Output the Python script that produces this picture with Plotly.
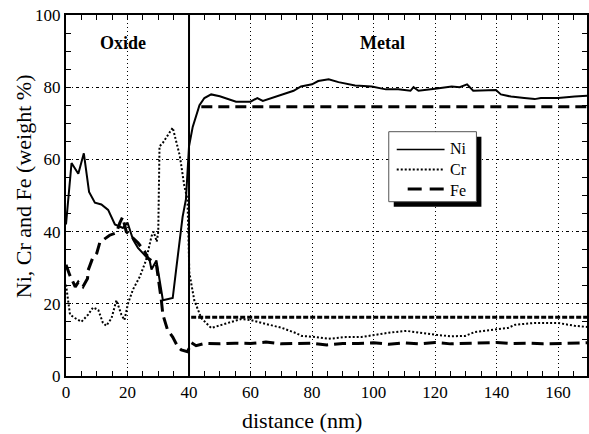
import plotly.graph_objects as go

# ---------------- data ----------------
ni_x = [0, 1.8, 4, 5.8, 7.5, 9.4, 11.5, 13.7, 15.9, 18.5, 20, 21.8, 23.4, 25, 27.2, 27.8, 29.4,
        31.5, 34.7, 35.8, 37.9, 39, 40, 41.2, 43.4, 45, 47.2, 50, 55.3, 60, 62.2, 64, 69, 74,
        76.4, 80, 82, 85.4, 88.6, 94, 99.4, 104, 108, 112, 113, 114.6, 120, 125.4, 128, 130.4,
        132.4, 137.2, 139.8, 141.4, 144.7, 149, 152.4, 154.4, 160, 165.4, 169.4]
ni_y = [42, 59, 56, 61.7, 51, 48, 47.5, 46, 42, 41, 42.5, 37.8, 35.5, 34, 32, 29.5, 32,
        21, 21.6, 29.4, 44, 49, 63.6, 69, 75, 77, 78, 77.5, 76, 76, 77, 76.2, 77.6, 79,
        80.2, 80.8, 81.7, 82.2, 81.4, 80.5, 80.2, 79.4, 79.4, 79, 80, 79, 79.6, 80.2, 80, 80.8,
        79, 79, 79.2, 78, 77.4, 77, 76.7, 77, 77, 77.4, 77.6]

cr_x = [0, 1.3, 3, 5, 7.2, 8.8, 10.5, 12, 13.1, 14.8, 16.4, 18, 19, 20.2, 21.8, 24, 26, 27.8,
        28.5, 29.5, 30, 30.4, 31.5, 34.7, 37, 38.5, 39.5, 40.1, 41.7, 44, 47.2, 50.8, 57, 60,
        65, 70.3, 74.7, 76.7, 81.2, 85.4, 91, 96.1, 100.6, 105, 110.7, 114.6, 120.4, 125,
        129.8, 133, 139.8, 143.7, 146, 152.4, 160, 165.4, 169.4]
cr_y = [25.3, 17, 16, 15, 17, 19, 18.3, 14.7, 13.9, 16, 21, 17, 15.5, 20.2, 24, 27.5, 32, 38.7,
        40, 37.2, 40, 63.6, 64.6, 68.8, 61, 52.5, 49, 28.6, 21, 16, 13.3, 14.2, 15.8, 15.5,
        14.4, 13.3, 11.9, 11.1, 10.8, 10.3, 10.8, 10.8, 11.4, 12, 12.5, 12, 11.4, 11,
        11.1, 12.2, 12.8, 13.3, 14.2, 14.7, 14.7, 13.9, 13.6]

fe_x = [0, 1.2, 3, 4, 5.5, 7, 7.2, 8.6, 10, 11, 14.2, 16.4, 17.5, 18.4, 19.6, 21.3, 23.4, 25.6,
        26.6, 28.2, 29.4, 31, 31.5, 33, 34.7, 36.4, 37.5, 39.5, 40.8, 42.3, 45, 50, 55, 60, 65,
        70, 75, 80, 84.8, 90, 95, 100, 105, 110, 115, 120, 125, 130, 135, 140, 145, 150, 155,
        160, 165, 169.4]
fe_y = [30.8, 28, 24.7, 26, 24.7, 27, 29.3, 32.5, 34, 37, 39, 39.7, 42.4, 44, 40, 38.7, 36.9, 34.5,
        32.7, 31.7, 30.8, 21, 17, 12.8, 10.8, 8, 7.2, 6.7, 9.2, 8.4, 9, 8.9, 9.1, 9, 9.4,
        8.9, 9, 9.1, 8.6, 9, 9, 9.2, 8.8, 9.2, 8.9, 9.3, 8.9, 9, 9.1, 9.3, 9, 9.1, 8.9,
        9, 9.1, 9.2]

# bulk (metal) composition reference levels
fe_bulk_x = [44, 169.4]
fe_bulk_y = [74.6, 74.6]
cr_bulk_x = [40.7, 169.4]
cr_bulk_y = [16.3, 16.3]

interface_x = 40
x_ticks = [0, 20, 40, 60, 80, 100, 120, 140, 160]
y_ticks = [0, 20, 40, 60, 80, 100]
legend_names = ["Ni", "Cr", "Fe"]

FONT = "Times New Roman, Liberation Serif, serif"

W, H = 589, 434
L, R, T, B = 66, 0, 15, 58
pw, ph = W - L - R, H - T - B


def px(xp):
    """window pixel x -> paper x"""
    return (xp - L) / pw


def py(yp):
    """window pixel y -> paper y"""
    return (H - B - yp) / ph


fig = go.Figure()

fig.add_trace(go.Scatter(x=fe_bulk_x, y=fe_bulk_y, mode="lines", showlegend=False,
                         line=dict(color="black", width=3, dash="11px,6px")))
fig.add_trace(go.Scatter(x=cr_bulk_x, y=cr_bulk_y, mode="lines", showlegend=False,
                         line=dict(color="black", width=3, dash="5px,2px")))

fig.add_trace(go.Scatter(x=ni_x, y=ni_y, mode="lines", name="Ni", showlegend=False,
                         line=dict(color="black", width=2)))
fig.add_trace(go.Scatter(x=cr_x, y=cr_y, mode="lines", name="Cr", showlegend=False,
                         line=dict(color="black", width=2, dash="2px,2px")))
fig.add_trace(go.Scatter(x=fe_x, y=fe_y, mode="lines", name="Fe", showlegend=False,
                         line=dict(color="black", width=3, dash="12px,6px")))

# interface line
fig.add_shape(type="line", x0=interface_x, x1=interface_x, y0=0, y1=100,
              xref="x", yref="y", line=dict(color="black", width=2))

# ---- legend box (drawn) ----
lx0, lx1, ly0, ly1 = 390, 478, 131.7, 201.7
fig.add_shape(type="rect", xref="paper", yref="paper",
              x0=px(lx0 + 5), x1=px(lx1 + 5), y0=py(ly1 + 5), y1=py(ly0 + 5),
              fillcolor="black", line=dict(width=0), layer="above")
fig.add_shape(type="rect", xref="paper", yref="paper",
              x0=px(lx0), x1=px(lx1), y0=py(ly1), y1=py(ly0),
              fillcolor="white", line=dict(color="#555555", width=1), layer="above")
key_y = [149.5, 169.5, 189]
key_dash = ["solid", "2px,2px", "14px,8px"]
key_w = [1.5, 2, 3]
key_x0 = [398, 398, 409]
for yk, dsh, wk, x0k in zip(key_y, key_dash, key_w, key_x0):
    fig.add_shape(type="line", xref="paper", yref="paper",
                  x0=px(x0k), x1=px(446), y0=py(yk), y1=py(yk),
                  line=dict(color="black", width=wk, dash=dsh), layer="above")
fig.add_annotation(x=px(449), y=py(key_y[1]), xref="paper", yref="paper",
                   text="<br>".join(legend_names), align="left",
                   xanchor="left", yanchor="middle", showarrow=False,
                   font=dict(family=FONT, size=16, color="black"))

axis_common = dict(
    showline=True, linecolor="black", linewidth=2, mirror="ticks",
    ticks="inside", ticklen=5, tickcolor="black", tickwidth=1,
    showgrid=True, gridcolor="black", gridwidth=1,
    zeroline=False, ticklabeloverflow="allow",
    tickfont=dict(family=FONT, size=17, color="black"),
)

fig.update_xaxes(range=[0, 169.4], tickvals=x_ticks, griddash="1px,3px",
                 minor=dict(dtick=5, tick0=0, ticks="inside", ticklen=5, tickcolor="black",
                            showgrid=False),
                 **axis_common)
fig.update_yaxes(range=[0, 100], tickvals=y_ticks, griddash="3px,3px,1px,3px",
                 minor=dict(dtick=5, tick0=0, ticks="inside", ticklen=5, tickcolor="black",
                            showgrid=False),
                 **axis_common)

fig.add_annotation(x=18.5, y=92.2, xref="x", yref="y", text="<b>Oxide</b>", showarrow=False,
                   xanchor="center", yanchor="middle",
                   font=dict(family=FONT, size=18, color="black"))
fig.add_annotation(x=103, y=92.2, xref="x", yref="y", text="<b>Metal</b>", showarrow=False,
                   xanchor="center", yanchor="middle",
                   font=dict(family=FONT, size=18, color="black"))

fig.add_annotation(x=px(303), y=py(421), xref="paper", yref="paper", text="distance (nm)",
                   xanchor="center", yanchor="middle",
                   showarrow=False, font=dict(family=FONT, size=22, color="black"))
fig.add_annotation(x=px(23), y=py(186), xref="paper", yref="paper",
                   text="Ni, Cr and Fe (weight %)", textangle=-90,
                   xanchor="center", yanchor="middle",
                   showarrow=False, font=dict(family=FONT, size=22, color="black"))

fig.update_layout(
    width=W, height=H,
    margin=dict(l=L, r=R, t=T, b=B),
    paper_bgcolor="white", plot_bgcolor="white",
    font=dict(family=FONT, color="black"),
    showlegend=False,
)

# remove the default 8px page margin so the figure fills the window exactly
fig.write_html("out.html",
               config={"displayModeBar": False, "staticPlot": True},
               post_script="document.body.style.margin='0px';document.body.style.overflow='hidden';")
